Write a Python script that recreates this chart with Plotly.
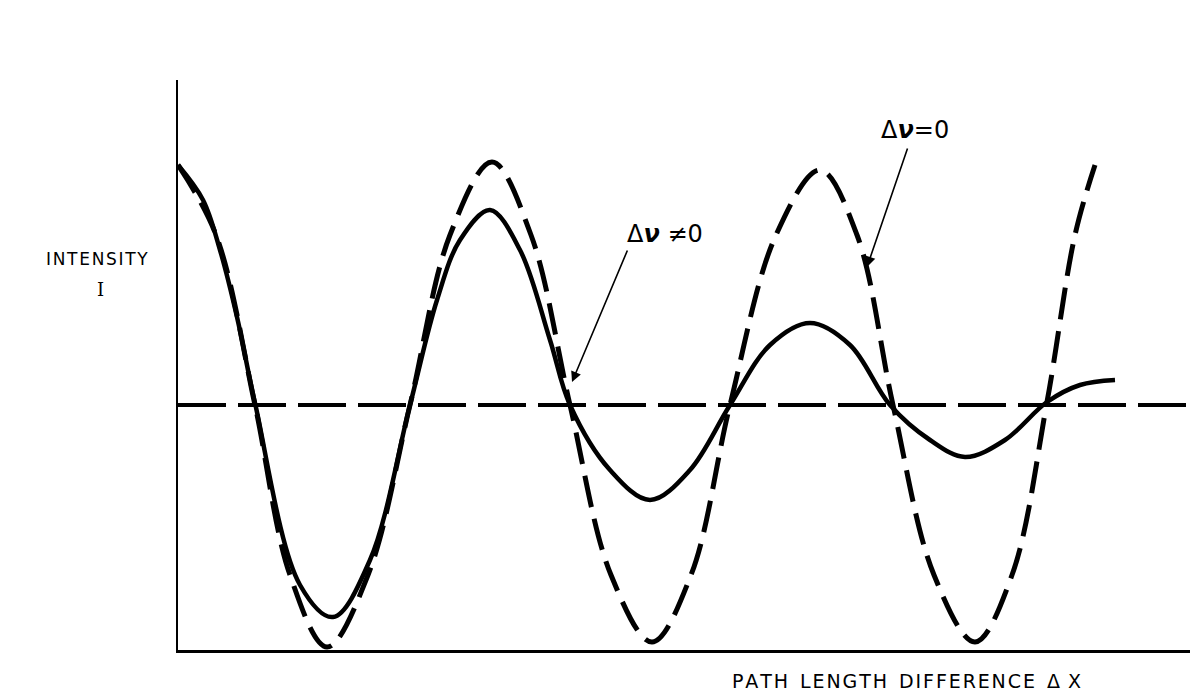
import plotly.graph_objects as go

# Data (arbitrary units): path length difference vs intensity
solid_x = [0.00, 0.25, 0.42, 0.59, 0.77, 1.22, 1.55, 1.92, 2.32, 2.59, 2.82, 3.12, 3.42, 3.72, 3.92,
           4.32, 4.72, 5.12, 5.52, 5.92, 6.32, 6.72, 7.12, 7.52, 7.87, 8.27, 8.69, 9.02, 9.37]
solid_y = [2.40, 2.05, 1.55, 0.88, 0.02, -1.80, -2.12, -1.55, 0.00, 1.05, 1.65, 1.95, 1.55, 0.65, 0.00,
           -0.65, -0.95, -0.65, 0.00, 0.60, 0.82, 0.60, 0.00, -0.35, -0.52, -0.35, 0.03, 0.20, 0.25]

dashed_x = [0.00, 0.38, 0.77, 1.12, 1.49, 1.90, 2.32, 2.72, 3.14, 3.53, 3.92, 4.33, 4.74, 5.13, 5.52,
            5.98, 6.42, 6.79, 7.15, 7.56, 7.97, 8.34, 8.69, 8.97, 9.17]
dashed_y = [2.40, 1.70, 0.00, -1.70, -2.42, -1.70, 0.00, 1.70, 2.43, 1.70, 0.00, -1.70, -2.37, -1.70, 0.00,
            1.70, 2.35, 1.70, 0.00, -1.70, -2.37, -1.70, 0.03, 1.70, 2.40]

mean_x = [0.0, 10.12]
mean_y = [0.0, 0.0]

x_range = [0, 10.12]
y_range = [-2.45, 3.25]

fig = go.Figure()
fig.add_trace(go.Scatter(x=mean_x, y=mean_y, mode="lines",
                         line=dict(color="black", width=4, dash="48px,12px")))
fig.add_trace(go.Scatter(x=dashed_x, y=dashed_y, mode="lines",
                         line=dict(color="black", width=5, dash="32px,12px", shape="spline", smoothing=1)))
fig.add_trace(go.Scatter(x=solid_x, y=solid_y, mode="lines",
                         line=dict(color="black", width=4.5, shape="spline", smoothing=1)))

font_main = "DejaVu Sans"
hs = "\u200a"


def spaced(s):
    return hs.join(s)


annotations = [
    dict(xref="paper", yref="paper", x=-0.080, y=0.686, text=spaced("INTENSITY"), showarrow=False,
         xanchor="center", yanchor="middle", font=dict(family=font_main, size=17, color="black")),
    dict(xref="paper", yref="paper", x=-0.077, y=0.633, text="I", showarrow=False,
         xanchor="center", yanchor="middle", font=dict(family="DejaVu Serif", size=18, color="black")),
    dict(xref="paper", yref="paper", x=0.720, y=-0.0544,
         text="  ".join(spaced(w) for w in ["PATH", "LENGTH", "DIFFERENCE"]) + "  \u0394" + hs + " X",
         showarrow=False, xanchor="center", yanchor="middle",
         font=dict(family=font_main, size=19, color="black")),
    dict(xref="x", yref="y", x=4.87, y=1.71, text="\u0394<b><i>\u03bd</i></b> \u22600", showarrow=False,
         xanchor="center", yanchor="middle", font=dict(family=font_main, size=24, color="black")),
    dict(xref="x", yref="y", x=7.37, y=2.75, text="\u0394<b><i>\u03bd</i></b>=0", showarrow=False,
         xanchor="center", yanchor="middle", font=dict(family=font_main, size=24, color="black")),
    dict(xref="x", yref="y", x=3.94, y=0.23, ax=4.50, ay=1.56, axref="x", ayref="y", text="", showarrow=True,
         arrowhead=2, arrowsize=1.3, arrowwidth=1.6, arrowcolor="black"),
    dict(xref="x", yref="y", x=6.89, y=1.38, ax=7.30, ay=2.58, axref="x", ayref="y", text="", showarrow=True,
         arrowhead=2, arrowsize=1.3, arrowwidth=1.6, arrowcolor="black"),
]

fig.update_layout(
    width=1190, height=699,
    margin=dict(l=178, r=0, t=80, b=49),
    paper_bgcolor="white", plot_bgcolor="white",
    showlegend=False,
    annotations=annotations,
    xaxis=dict(range=x_range, showline=True, linecolor="black", linewidth=2.5, showgrid=False,
               zeroline=False, showticklabels=False, ticks=""),
    yaxis=dict(range=y_range, showline=True, linecolor="black", linewidth=2, showgrid=False,
               zeroline=False, showticklabels=False, ticks=""),
)

fig.write_html("out.html")
